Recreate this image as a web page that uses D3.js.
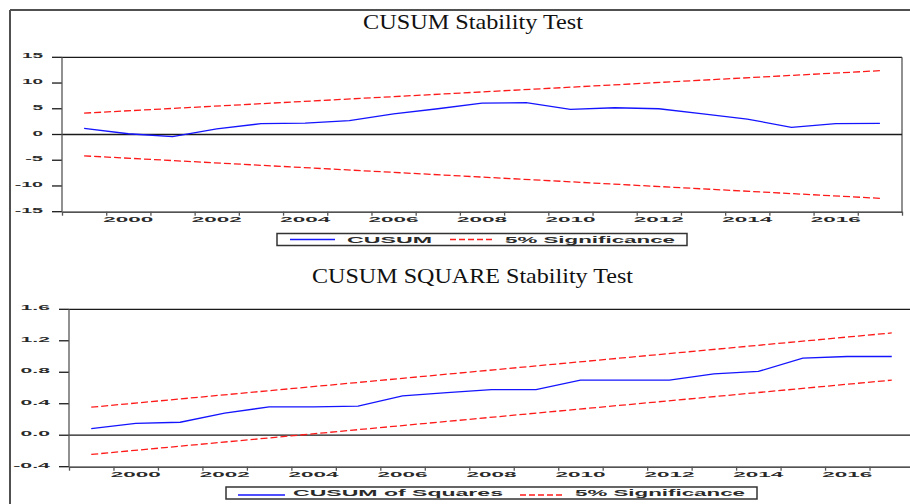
<!DOCTYPE html>
<html>
<head>
<meta charset="utf-8">
<script src="https://cdn.jsdelivr.net/npm/d3@7"></script>
<style>
  body { margin: 0; background: #fff; }
  svg { display: block; }
</style>
</head>
<body>
<div id="chart"></div>
<script>
// observations (annual)
var years = [1999, 2000, 2001, 2002, 2003, 2004, 2005, 2006, 2007, 2008, 2009, 2010, 2011, 2012, 2013, 2014, 2015, 2016, 2017];
var labelYears = [2000, 2002, 2004, 2006, 2008, 2010, 2012, 2014, 2016];

// CUSUM panel
var cusum = [1.2, 0.15, -0.4, 1.1, 2.1, 2.2, 2.7, 4.0, 5.0, 6.1, 6.2, 4.9, 5.2, 5.0, 4.0, 3.0, 1.4, 2.1, 2.15];
var cusumUpper = [{ year: 1999, value: 4.15 }, { year: 2017, value: 12.4 }];
var cusumLower = [{ year: 1999, value: -4.15 }, { year: 2017, value: -12.4 }];
var cusumTicks = [-15, -10, -5, 0, 5, 10, 15];

// CUSUM of squares panel
var cusumSq = [0.085, 0.15, 0.165, 0.28, 0.36, 0.36, 0.37, 0.50, 0.54, 0.58, 0.58, 0.70, 0.70, 0.70, 0.78, 0.81, 0.98, 1.0, 1.0];
var sqUpper = [{ year: 1999, value: 0.356 }, { year: 2017, value: 1.30 }];
var sqLower = [{ year: 1999, value: -0.244 }, { year: 2017, value: 0.70 }];
var sqTicks = [-0.4, 0.0, 0.4, 0.8, 1.2, 1.6];

var W = 910, H = 504;
var svg = d3.select("#chart").append("svg")
  .attr("width", W)
  .attr("height", H);

var lineColor = "#1a1a1a";
var textColor = "#2a2a2a";
var tickFont = "'Liberation Sans', Arial, sans-serif";

// outer frame (top and left edges visible)
svg.append("line").attr("x1", 10).attr("y1", 10).attr("x2", W).attr("y2", 10)
  .attr("stroke", "#505050").attr("stroke-width", 2);
svg.append("line").attr("x1", 10).attr("y1", 10).attr("x2", 10).attr("y2", H)
  .attr("stroke", "#505050").attr("stroke-width", 2);

// rough width of the stretched EViews style labels
function labelWidth(s, per) {
  var w = 0;
  for (var i = 0; i < s.length; i++) {
    var c = s[i];
    if (c == "-") w += per * 0.7;
    else if (c == ".") w += per * 0.8;
    else if (c == " ") w += per * 0.6;
    else w += per;
  }
  return w;
}

function drawPanel(p) {
  var x = d3.scaleLinear().domain([1998.5, 2017.5]).range([p.left, p.right]);
  var y = d3.scaleLinear().domain(p.yDomain).range([p.bottom, p.top]);
  var g = svg.append("g");

  // title
  g.append("text")
    .attr("x", p.titleX)
    .attr("y", p.titleY)
    .attr("text-anchor", "middle")
    .attr("font-family", "'Liberation Serif', 'Times New Roman', serif")
    .attr("font-size", 21)
    .attr("fill", "#111")
    .attr("textLength", p.titleWidth)
    .attr("lengthAdjust", "spacingAndGlyphs")
    .text(p.title);

  // y ticks (outward) and labels sitting on the tick
  g.selectAll(".ytick").data(p.yTicks).enter().append("line")
    .attr("x1", p.left - 10).attr("x2", p.left)
    .attr("y1", function (d) { return y(d); })
    .attr("y2", function (d) { return y(d); })
    .attr("stroke", lineColor).attr("stroke-width", 1.3);
  g.selectAll(".ylab").data(p.yTicks).enter().append("text")
    .attr("x", p.left - 19)
    .attr("y", function (d) { return y(d) + 1; })
    .attr("text-anchor", "end")
    .attr("font-family", tickFont)
    .attr("font-weight", "bold")
    .attr("font-size", 8)
    .attr("fill", textColor)
    .attr("textLength", function (d) { return labelWidth(p.fmt(d), 10.5); })
    .attr("lengthAdjust", "spacingAndGlyphs")
    .text(function (d) { return p.fmt(d); });

  // frame: top, right, zero line
  g.append("line").attr("x1", p.left).attr("x2", p.right)
    .attr("y1", p.top).attr("y2", p.top)
    .attr("stroke", lineColor).attr("stroke-width", 1.3);
  g.append("line").attr("x1", p.right).attr("x2", p.right)
    .attr("y1", p.top).attr("y2", p.bottom)
    .attr("stroke", "#555").attr("stroke-width", 1.3);
  g.append("line").attr("x1", p.left).attr("x2", p.right)
    .attr("y1", y(0)).attr("y2", y(0))
    .attr("stroke", lineColor).attr("stroke-width", 1.3);

  // left axis
  g.append("line").attr("x1", p.left).attr("x2", p.left)
    .attr("y1", p.top).attr("y2", p.bottom)
    .attr("stroke", "#555").attr("stroke-width", 1.3);

  // x axis: ticks between years, labels on even years
  var xAxis = d3.axisBottom(x)
    .tickValues(years.map(function (d) { return d - 0.5; }).concat([2017.5]))
    .tickSize(4)
    .tickSizeOuter(0)
    .tickFormat("");
  var ax = g.append("g")
    .attr("transform", "translate(0," + p.bottom + ")")
    .call(xAxis);
  ax.select(".domain").attr("stroke", lineColor).attr("stroke-width", 1.3);
  ax.selectAll(".tick line").attr("stroke", "#555").attr("stroke-width", 1.3);

  g.selectAll(".xlab").data(labelYears).enter().append("text")
    .attr("x", function (d) { return x(d); })
    .attr("y", p.bottom + 10.5)
    .attr("text-anchor", "middle")
    .attr("font-family", tickFont)
    .attr("font-weight", "bold")
    .attr("font-size", 8)
    .attr("fill", textColor)
    .attr("textLength", 50)
    .attr("lengthAdjust", "spacingAndGlyphs")
    .text(function (d) { return d; });

  // series
  var line = d3.line()
    .x(function (d) { return x(d.year); })
    .y(function (d) { return y(d.value); });

  [p.upper, p.lower].forEach(function (b) {
    g.append("path")
      .datum(b)
      .attr("fill", "none")
      .attr("stroke", "#ff1a1a")
      .attr("stroke-width", 1.3)
      .attr("stroke-dasharray", "7,3")
      .attr("d", line);
  });

  g.append("path")
    .datum(years.map(function (yr, i) { return { year: yr, value: p.values[i] }; }))
    .attr("fill", "none")
    .attr("stroke", "#1414ff")
    .attr("stroke-width", 1.3)
    .attr("d", line);

  // legend
  var L = p.legend;
  g.append("rect")
    .attr("x", L.x).attr("y", L.y)
    .attr("width", L.w).attr("height", L.h)
    .attr("fill", "#fff")
    .attr("stroke", "#333").attr("stroke-width", 1.5);
  g.append("line")
    .attr("x1", L.blue[0]).attr("x2", L.blue[1])
    .attr("y1", L.lineY).attr("y2", L.lineY)
    .attr("stroke", "#1414ff").attr("stroke-width", 1.3);
  g.append("line")
    .attr("x1", L.red[0]).attr("x2", L.red[1])
    .attr("y1", L.lineY).attr("y2", L.lineY)
    .attr("stroke", "#ff1a1a").attr("stroke-width", 1.3)
    .attr("stroke-dasharray", "6,3");
  L.items.forEach(function (it) {
    g.append("text")
      .attr("x", it.x)
      .attr("y", L.textY)
      .attr("font-family", tickFont)
      .attr("font-weight", "bold")
      .attr("font-size", 8.5)
      .attr("fill", textColor)
      .attr("textLength", it.w)
      .attr("lengthAdjust", "spacingAndGlyphs")
      .text(it.label);
  });
}

drawPanel({
  title: "CUSUM Stability Test",
  titleX: 473, titleY: 29, titleWidth: 220,
  left: 62, right: 902, top: 57.3, bottom: 211.7,
  yDomain: [-15, 15], yTicks: cusumTicks,
  fmt: function (d) { return d3.format("d")(d).replace("−", "-"); },
  values: cusum, upper: cusumUpper, lower: cusumLower,
  legend: {
    x: 277, y: 233.5, w: 410, h: 12, lineY: 239.5, textY: 242.5,
    blue: [290, 335], red: [450, 494],
    items: [{ label: "CUSUM", x: 347, w: 85 }, { label: "5% Significance", x: 505, w: 170 }]
  }
});

drawPanel({
  title: "CUSUM SQUARE Stability Test",
  titleX: 472.5, titleY: 282.5, titleWidth: 321,
  left: 69, right: 914, top: 309.3, bottom: 466.7,
  yDomain: [-0.4, 1.6], yTicks: sqTicks,
  fmt: function (d) { return d3.format(".1f")(d).replace("−", "-"); },
  values: cusumSq, upper: sqUpper, lower: sqLower,
  legend: {
    x: 226, y: 487, w: 531, h: 12, lineY: 495, textY: 496,
    blue: [238, 285], red: [520, 565],
    items: [{ label: "CUSUM of Squares", x: 293, w: 210 }, { label: "5% Significance", x: 575, w: 170 }]
  }
});
</script>
</body>
</html>
